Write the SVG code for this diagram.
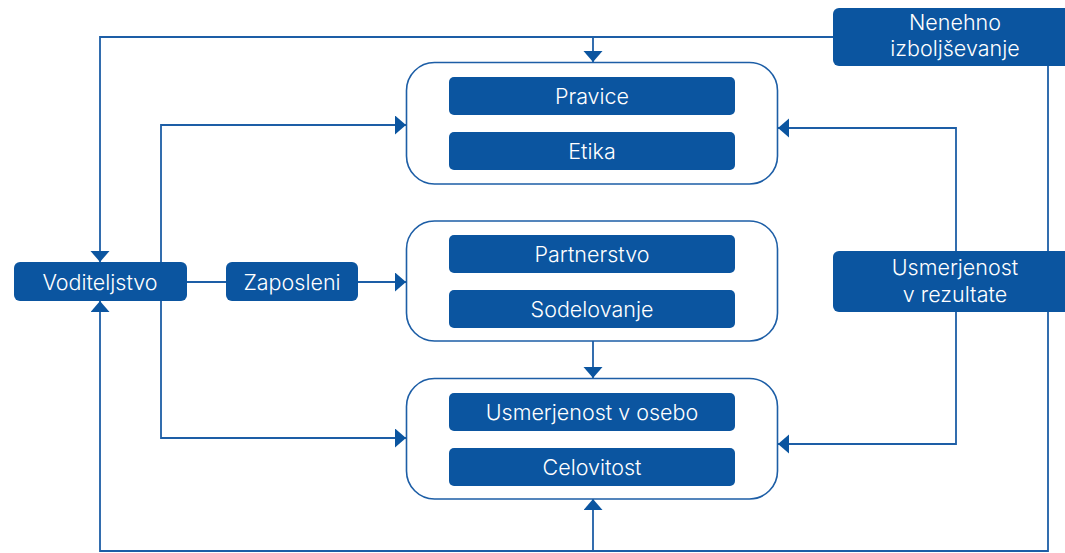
<svg xmlns="http://www.w3.org/2000/svg" width="1065" height="553" viewBox="0 0 1065 553">
<defs>
<marker id="ah" markerUnits="userSpaceOnUse" markerWidth="12" markerHeight="20" refX="11" refY="9.5" orient="auto" viewBox="0 0 12 20">
<path d="M0,0 L11,9.5 L0,19 Z" fill="#0b55a0"/>
</marker>
<style>
.ln{fill:none;stroke:#1d5ea6;stroke-width:1.8}
.cont{fill:#fff;stroke:#1d5ea6;stroke-width:1.6}
.box{fill:#0b55a0}
.t{font-family:Inter,"Noto Sans","Liberation Sans",sans-serif;font-size:21.5px;font-weight:300;fill:#fff;text-anchor:middle}
</style>
</defs>
<rect width="1065" height="553" fill="#fff"/>
<g id="connectors">
<path class="ln" d="M833,37 H100 V262" marker-end="url(#ah)"/>
<path class="ln" d="M593,37 V62" marker-end="url(#ah)"/>
<path class="ln" d="M1048,66 V551 H100 V301" marker-end="url(#ah)"/>
<path class="ln" d="M593,551 V499" marker-end="url(#ah)"/>
<path class="ln" d="M956,251 V128 H778" marker-end="url(#ah)"/>
<path class="ln" d="M956,312 V444 H778" marker-end="url(#ah)"/>
<path class="ln" d="M186,282 H226"/>
<path class="ln" d="M358,282 H406" marker-end="url(#ah)"/>
<path class="ln" d="M161,262 V125 H406" marker-end="url(#ah)"/>
<path class="ln" d="M161,301 V438 H406" marker-end="url(#ah)"/>
<path class="ln" d="M593,341 V378" marker-end="url(#ah)"/>
</g>
<g id="group1">
<rect class="cont" x="406.5" y="62.5" width="371" height="121.5" rx="28"/>
</g>
<g id="pravice"><rect class="box" x="449" y="77" width="286" height="38" rx="5"/><text class="t" x="592" y="104">Pravice</text></g>
<g id="etika"><rect class="box" x="449" y="132" width="286" height="38" rx="5"/><text class="t" x="592" y="159">Etika</text></g>
<g id="group2">
<rect class="cont" x="406.5" y="221" width="371" height="120" rx="28"/>
</g>
<g id="partnerstvo"><rect class="box" x="449" y="235" width="286" height="38" rx="5"/><text class="t" x="592" y="262">Partnerstvo</text></g>
<g id="sodelovanje"><rect class="box" x="449" y="290" width="286" height="38" rx="5"/><text class="t" x="592" y="317">Sodelovanje</text></g>
<g id="group3">
<rect class="cont" x="406.5" y="378.5" width="371" height="120.5" rx="28"/>
</g>
<g id="osebo"><rect class="box" x="449" y="393" width="286" height="38" rx="5"/><text class="t" x="592" y="420">Usmerjenost v osebo</text></g>
<g id="celovitost"><rect class="box" x="449" y="448" width="286" height="38" rx="5"/><text class="t" x="592" y="475">Celovitost</text></g>
<g id="voditeljstvo"><rect class="box" x="14" y="262" width="173" height="39" rx="6"/><text class="t" x="100" y="290">Voditeljstvo</text></g>
<g id="zaposleni"><rect class="box" x="226" y="262" width="132" height="39" rx="6"/><text class="t" x="292" y="290">Zaposleni</text></g>
<g id="nenehno"><rect class="box" x="833" y="8" width="240" height="58" rx="6"/><text class="t" x="955" y="30">Nenehno</text><text class="t" x="955" y="56">izboljševanje</text></g>
<g id="rezultate"><rect class="box" x="833" y="251" width="240" height="61" rx="6"/><text class="t" x="955" y="275">Usmerjenost</text><text class="t" x="955" y="302">v rezultate</text></g>
</svg>
